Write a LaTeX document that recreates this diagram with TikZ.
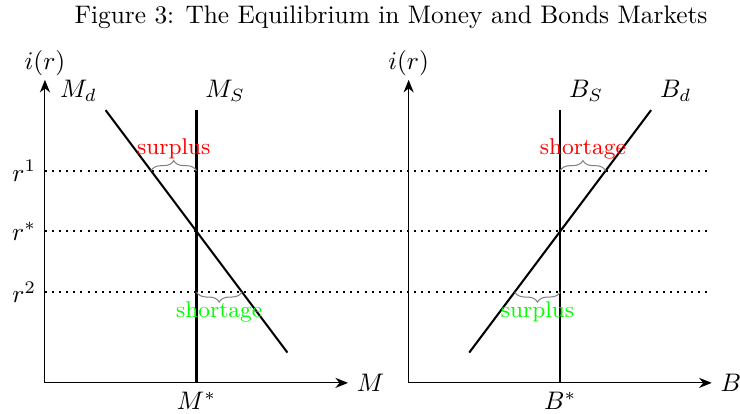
\documentclass[tikz,border=0pt]{standalone}
\usepackage{amsmath,amssymb}
\usetikzlibrary{positioning,arrows.meta,decorations.pathreplacing,calc}
\tikzset{
  axis/.style={-{Stealth[length=5pt,width=4pt]}},
  curve/.style={thick},
  level/.style={thick, dotted},
  gap/.style={gray, decorate, decoration={brace, amplitude=4pt}},
  gaplabel/.style={font=\small},
}

\begin{document}
\begin{tikzpicture}[x=0.7cm, y=0.7cm]
  \useasboundingbox (-0.89,-0.61) rectangle (13.76,7.58);

  \node (title) at (6.85,7.23) {Figure 3: The Equilibrium in Money and Bonds Markets};

  % money market
  \coordinate (OM) at (0,0);
  \coordinate (yM) at (0,6);
  \coordinate (xM) at (6,0);
  \draw[axis] (OM) -- (yM);
  \draw[axis] (OM) -- (xM);
  \node (ylabM) at (0,6.32) {$i(r)$};
  \node[right=0pt of xM] (xlabM) {$M$};

  % bonds market
  \coordinate (OB) at (7.2,0);
  \coordinate (yB) at (7.2,6);
  \coordinate (xB) at (13.2,0);
  \draw[axis] (OB) -- (yB);
  \draw[axis] (OB) -- (xB);
  \node (ylabB) at (7.2,6.32) {$i(r)$};
  \node[right=0pt of xB] (xlabB) {$B$};

  % interest rate levels
  \foreach \y/\name/\lab in {4.2/one/r^1, 3/star/r^*, 1.8/two/r^2} {
    \coordinate (l\name) at (0,\y);
    \coordinate (r\name) at (13.2,\y);
    \draw[level] (l\name) -- (r\name);
    \node[left] (lab\name) at (l\name) {$\lab$};
  }

  % money curves
  \coordinate (msTop) at (3,5.4);
  \coordinate (msBot) at (3,0);
  \coordinate (mdTop) at (1.2,5.4);
  \coordinate (mdBot) at (4.8,0.6);
  \coordinate (eqM) at (3,3);
  \draw[gray, dashed] (msBot) -- (eqM);
  \draw[curve] (msBot) -- (msTop);
  \draw[curve] (mdTop) -- (mdBot);
  \node[above left] (mdlab) at (mdTop) {$M_d$};
  \node[above right] (mslab) at (msTop) {$M_S$};
  \node[below] (mstar) at (msBot) {$M^*$};

  % bond curves
  \coordinate (bsTop) at (10.2,5.4);
  \coordinate (bsBot) at (10.2,0);
  \coordinate (bdTop) at (12,5.4);
  \coordinate (bdBot) at (8.4,0.6);
  \coordinate (eqB) at (10.2,3);
  \draw[gray, dashed] (bsBot) -- (eqB);
  \draw[curve] (bsBot) -- (bsTop);
  \draw[curve] (bdBot) -- (bdTop);
  \node[above right] (bslab) at (bsTop) {$B_S$};
  \node[above right] (bdlab) at (bdTop) {$B_d$};
  \node[below] (bstar) at (bsBot) {$B^*$};

  % gaps
  \coordinate (mdOne) at (2.1,4.2);
  \coordinate (msOne) at (3,4.2);
  \coordinate (msTwo) at (3,1.8);
  \coordinate (mdTwo) at (3.9,1.8);
  \draw[gap] (mdOne) -- node[midway, above=1.2pt, gaplabel, text=red] (surM) {surplus} (msOne);
  \draw[gap] (mdTwo) -- node[midway, below=0.4pt, gaplabel, text=green] (shoM) {shortage} (msTwo);

  \coordinate (bsOne) at (10.2,4.2);
  \coordinate (bdOne) at (11.1,4.2);
  \coordinate (bdTwo) at (9.3,1.8);
  \coordinate (bsTwo) at (10.2,1.8);
  \draw[gap] (bsOne) -- node[midway, above=1.2pt, gaplabel, text=red] (shoB) {shortage} (bdOne);
  \draw[gap] (bsTwo) -- node[midway, below=0.4pt, gaplabel, text=green] (surB) {surplus} (bdTwo);
\end{tikzpicture}
\end{document}
